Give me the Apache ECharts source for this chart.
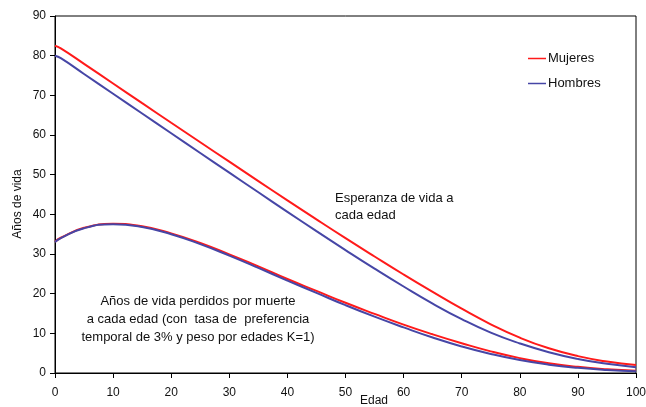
<!DOCTYPE html>
<html><head><meta charset="utf-8">
<script src="https://cdn.jsdelivr.net/npm/echarts@6/dist/echarts.min.js"></script>
<style>html,body{margin:0;padding:0;background:#fff}#c{width:646px;height:407px}</style>
</head><body><div id="c"></div>
<script>
var ages = [0, 1, 5, 10, 15, 20, 25, 30, 35, 40, 45, 50, 55, 60, 65, 70, 75, 80, 85, 90, 95, 100];
var leMujeres = [82.5, 81.84, 77.95, 72.99, 68.02, 63.08, 58.17, 53.27, 48.38, 43.53, 38.72, 33.99, 29.37, 24.83, 20.44, 16.20, 12.28, 8.90, 6.22, 4.25, 2.89, 2.00];
var leHombres = [80.0, 79.36, 75.38, 70.40, 65.41, 60.44, 55.47, 50.51, 45.56, 40.64, 35.77, 30.99, 26.32, 21.81, 17.50, 13.58, 10.17, 7.45, 5.24, 3.54, 2.31, 1.46];
var yllMujeres = [33.1, 34.1, 36.6, 37.6, 37.0, 35.2, 32.8, 29.9, 26.9, 23.7, 20.7, 17.7, 14.9, 12.2, 9.75, 7.5, 5.45, 3.75, 2.45, 1.55, 0.95, 0.57];
var yllHombres = [33.0, 34.0, 36.5, 37.5, 36.8, 35.0, 32.5, 29.6, 26.5, 23.3, 20.2, 17.1, 14.2, 11.5, 8.95, 6.7, 4.8, 3.25, 2.1, 1.3, 0.76, 0.42];
var xTicks = [0, 10, 20, 30, 40, 50, 60, 70, 80, 90, 100];
var yTicks = [0, 10, 20, 30, 40, 50, 60, 70, 80, 90];
var serieNames = ['Mujeres', 'Hombres'];
var colors = ['#ff1a1a', '#4646a6'];

function pairs(v) { return ages.map(function (a, i) { return [a, v[i]]; }); }

var chart = echarts.init(document.getElementById('c'));
var font = 'Liberation Sans, Arial, sans-serif';
var lineStyle = function (c) { return { color: c, width: 2 }; };
chart.setOption({
  animation: false,
  backgroundColor: '#fff',
  textStyle: { fontFamily: font },
  grid: { left: 55, right: 10, top: 16, bottom: 34, show: true, borderColor: '#000', borderWidth: 1, outerBoundsMode: 'none', containLabel: false },
  legend: {
    data: serieNames,
    orient: 'vertical',
    left: 523, top: 47,
    icon: 'path://M0,0h18v1.5h-18z',
    itemWidth: 18, itemHeight: 2, itemGap: 12,
    textStyle: { fontFamily: font, fontSize: 13, color: '#111', padding: [0, 0, 0, -3] }
  },
  xAxis: {
    type: 'value', min: 0, max: 100, interval: 10,
    axisLine: { lineStyle: { color: '#000', width: 1 } },
    axisTick: { show: true, length: 5, inside: false, lineStyle: { color: '#000' } },
    axisLabel: { color: '#111', fontSize: 12, margin: 14, fontFamily: font },
    splitLine: { show: false }
  },
  yAxis: {
    type: 'value', min: 0, max: 90, interval: 10,
    axisLine: { show: true, lineStyle: { color: '#000', width: 1 } },
    axisTick: { show: true, length: 5, inside: false, lineStyle: { color: '#000' } },
    axisLabel: { color: '#111', fontSize: 12, margin: 9, fontFamily: font },
    splitLine: { show: false }
  },
  graphic: [
    { type: 'text', left: 360, top: 395, style: { text: 'Edad', font: '12px ' + font, fill: '#111' } },
    { type: 'text', x: 18, y: 204, rotation: Math.PI / 2, style: { text: 'Años de vida', font: '12px ' + font, fill: '#111', align: 'center', verticalAlign: 'middle' } },
    { type: 'text', left: 335, top: 190, style: { text: 'Esperanza de vida a\ncada edad', font: '13px ' + font, fill: '#111', lineHeight: 17 } },
    { type: 'text', x: 198, y: 292, style: { text: 'Años de vida perdidos por muerte\na cada edad (con  tasa de  preferencia\ntemporal de 3% y peso por edades K=1)', font: '13px ' + font, fill: '#111', lineHeight: 18, align: 'center' } }
  ],
  series: [
    { name: serieNames[0], type: 'line', smooth: true, symbol: 'none', data: pairs(leMujeres), lineStyle: lineStyle(colors[0]), itemStyle: { color: colors[0] } },
    { name: serieNames[1], type: 'line', smooth: true, symbol: 'none', data: pairs(leHombres), lineStyle: lineStyle(colors[1]), itemStyle: { color: colors[1] } },
    { name: serieNames[0], type: 'line', smooth: true, symbol: 'none', data: pairs(yllMujeres), lineStyle: lineStyle(colors[0]), itemStyle: { color: colors[0] } },
    { name: serieNames[1], type: 'line', smooth: true, symbol: 'none', data: pairs(yllHombres), lineStyle: lineStyle(colors[1]), itemStyle: { color: colors[1] } }
  ]
});
</script></body></html>
